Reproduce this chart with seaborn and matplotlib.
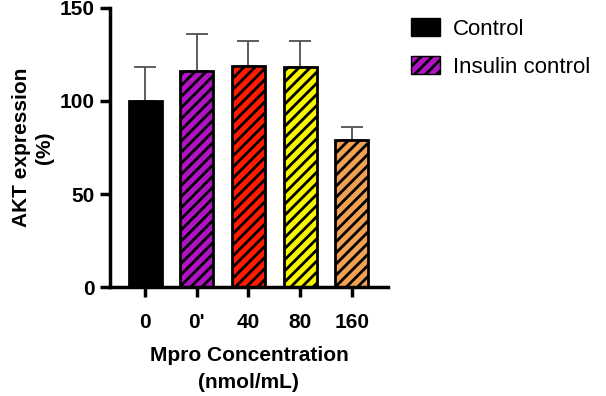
import matplotlib.pyplot as plt
import matplotlib.patches as mpatches
import pandas as pd
import seaborn as sns

groups = ["0", "0'", "40", "80", "160"]
akt_mean = [100, 116, 119, 118, 79]
akt_err = [18, 20, 13, 14, 7]
bar_colors = ["#000000", "#b012c4", "#ff1a00", "#f7f700", "#f2a052"]
legend_labels = ["Control", "Insulin control"]

sns.set_style("ticks")
plt.rcParams["font.family"] = ["Liberation Sans", "DejaVu Sans"]
plt.rcParams["hatch.linewidth"] = 2.0
plt.rcParams["text.color"] = "black"
plt.rcParams["axes.labelcolor"] = "black"
plt.rcParams["xtick.color"] = "black"
plt.rcParams["ytick.color"] = "black"
plt.rcParams["axes.edgecolor"] = "black"

df = pd.DataFrame({"group": groups, "akt": akt_mean})

fig = plt.figure(figsize=(6.06, 3.96), dpi=100)
ax = fig.add_axes([0.1815, 0.275, 0.4585, 0.705])

sns.barplot(
    data=df,
    x="group",
    y="akt",
    hue="group",
    palette=bar_colors,
    order=groups,
    hue_order=groups,
    width=0.64,
    saturation=1,
    edgecolor="black",
    linewidth=2,
    legend=False,
    ax=ax,
)
for i, patch in enumerate(ax.patches):
    if i > 0:
        patch.set_hatch("///")
    patch.set_zorder(2)

ax.errorbar(
    x=range(len(groups)),
    y=akt_mean,
    yerr=[[0] * len(groups), akt_err],
    fmt="none",
    ecolor="#505050",
    elinewidth=1.3,
    capsize=8,
    capthick=1.3,
    zorder=1,
)

ax.set_xlim(-0.68, 4.7)
ax.set_ylim(0, 150)
ax.set_yticks([0, 50, 100, 150])
ax.tick_params(axis="both", width=2.5, length=7, labelsize=15)
ax.tick_params(axis="x", pad=12)
ax.tick_params(axis="y", pad=4)
for lbl in ax.get_xticklabels() + ax.get_yticklabels():
    lbl.set_fontweight("bold")
for side in ["left", "bottom"]:
    ax.spines[side].set_linewidth(2.5)
sns.despine(ax=ax)

ax.set_xlabel("Mpro Concentration\n(nmol/mL)", fontsize=15, fontweight="bold",
              labelpad=10, linespacing=1.5)
ax.set_ylabel("AKT expression\n(%)", fontsize=15, fontweight="bold",
              labelpad=4, linespacing=1.3)

handles = [
    mpatches.Patch(facecolor=bar_colors[0], edgecolor="black", label=legend_labels[0]),
    mpatches.Patch(facecolor=bar_colors[1], edgecolor="black", hatch="///", label=legend_labels[1]),
]
fig.legend(
    handles=handles,
    loc="upper left",
    bbox_to_anchor=(0.645, 1.005),
    frameon=False,
    fontsize=16,
    handlelength=1.3,
    handleheight=0.85,
    handletextpad=0.6,
    labelspacing=0.75,
)

fig.savefig("out.png", dpi=100)
